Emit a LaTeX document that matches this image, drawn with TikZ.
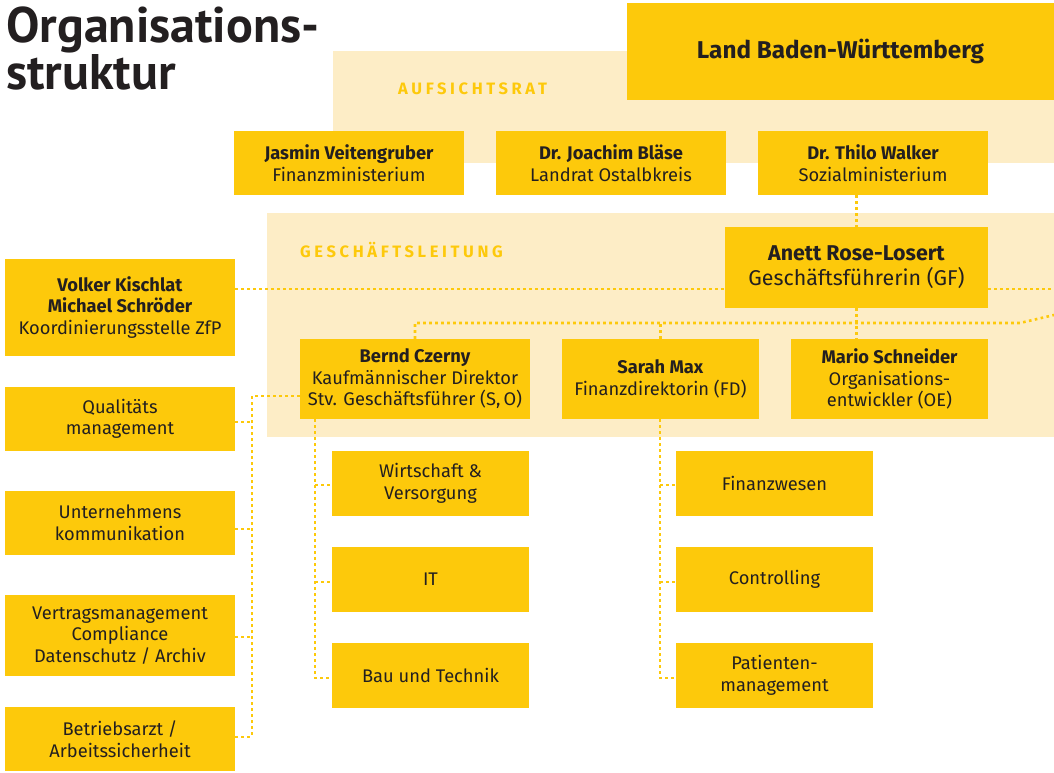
\documentclass[tikz,border=0pt]{standalone}
\usepackage{fontspec}
\setmainfont{Fira Sans}
\newfontfamily\titlefont{PT Sans}
\definecolor{ylw}{HTML}{FDC90B}
\definecolor{pale}{HTML}{FDEDC6}
\definecolor{ink}{HTML}{231F20}
\tikzset{
  box/.style={fill=ylw, inner sep=0pt, align=center, text=ink, font=\fontsize{18.3}{21.5}\selectfont},
  conn/.style={draw=ylw, line width=2.6pt, dash pattern=on 2.6pt off 3.4pt},
  panel/.style={fill=pale, draw=none},
  headtxt/.style={text=ylw, inner sep=0pt, anchor=west, font=\fontsize{16.5}{18}\selectfont\bfseries\addfontfeature{LetterSpace=22}}
}
\begin{document}
\begin{tikzpicture}[x=1pt,y=-1pt]
\useasboundingbox (0,0) rectangle (1054,773);
% panels
\fill[panel] (333,51) rectangle (1054,163);
\fill[panel] (267,213) rectangle (1054,437);
% title
\node[anchor=base west, inner sep=0pt, text=ink, font=\titlefont\bfseries\fontsize{50}{52}\selectfont] (t1) at (6,43) {Organisations-};
\node[anchor=base west, inner sep=0pt, text=ink, font=\titlefont\bfseries\fontsize{50}{52}\selectfont] (t2) at (6,90) {struktur};
% headings
\node[headtxt] (hA) at (398,89) {AUFSICHTSRAT};
\node[headtxt] (hG) at (300,250) {GESCHÄFTSLEITUNG};
% boxes
\node[box, minimum width=427pt, minimum height=97pt, font=\fontsize{24.3}{29}\selectfont\bfseries] (land) at (840.5,51.5) {Land Baden-Württemberg};
\node[box, minimum width=230pt, minimum height=64pt] (jasmin) at (349,163) {\textbf{Jasmin Veitengruber}\\Finanzministerium};
\node[box, minimum width=230pt, minimum height=64pt] (joachim) at (611,163) {\textbf{Dr. Joachim Bläse}\\Landrat Ostalbkreis};
\node[box, minimum width=230pt, minimum height=64pt] (thilo) at (873,163) {\textbf{Dr. Thilo Walker}\\Sozialministerium};
\node[box, minimum width=263pt, minimum height=81pt, font=\fontsize{21.4}{25}\selectfont] (anett) at (856.5,267.5) {\textbf{Anett Rose-Losert}\\Geschäftsführerin (GF)};
\node[box, minimum width=230pt, minimum height=97pt] (volker) at (120,307.5) {\textbf{Volker Kischlat}\\\textbf{Michael Schröder}\\Koordinierungsstelle ZfP};
\node[box, minimum width=230pt, minimum height=80pt] (bernd) at (415,379) {\textbf{Bernd Czerny}\\Kaufmännischer Direktor\\Stv. Geschäftsführer (S,\,O)};
\node[box, minimum width=197pt, minimum height=80pt] (sarah) at (660.5,379) {\textbf{Sarah Max}\\Finanzdirektorin (FD)};
\node[box, minimum width=197pt, minimum height=80pt] (mario) at (889.5,379) {\textbf{Mario Schneider}\\Organisations-\\entwickler (OE)};
\node[box, minimum width=230pt, minimum height=64pt] (qual) at (120,419) {Qualitäts\\management};
\node[box, minimum width=230pt, minimum height=64pt] (untern) at (120,523) {Unternehmens\\kommunikation};
\node[box, minimum width=230pt, minimum height=81pt] (vertrag) at (120,635.5) {Vertragsmanagement\\Compliance\\Datenschutz / Archiv};
\node[box, minimum width=230pt, minimum height=64pt] (betrieb) at (120,739) {Betriebsarzt /\\Arbeitssicherheit};
\node[box, minimum width=197pt, minimum height=65pt] (wirt) at (430.5,483.5) {Wirtschaft \&\\Versorgung};
\node[box, minimum width=197pt, minimum height=65pt] (it) at (430.5,579.5) {IT};
\node[box, minimum width=197pt, minimum height=65pt] (bau) at (430.5,675.5) {Bau und Technik};
\node[box, minimum width=197pt, minimum height=65pt] (fin) at (774.5,483.5) {Finanzwesen};
\node[box, minimum width=197pt, minimum height=65pt] (contr) at (774.5,579.5) {Controlling};
\node[box, minimum width=197pt, minimum height=65pt] (pat) at (774.5,675.5) {Patienten-\\management};
% free ends
\coordinate (gfR) at (1054,289);
\coordinate (hr1) at (1020,323);
\coordinate (hr2) at (1054,315);
\coordinate (busTop) at (252,396);
\coordinate (busBot) at (252,737);
\coordinate (bEnd) at (315,678);
\coordinate (sEnd) at (660,678);
% connectors
\draw[conn] (anett.north |- thilo.south) -- (anett.north);
\draw[conn] (volker.east |- gfR) -- (anett.west |- gfR);
\draw[conn] (anett.east |- gfR) -- (gfR);
\draw[conn] (anett.south) -- (anett.south |- mario.north);
\draw[conn] (bernd.north) -- (bernd.north |- hr1) -- (hr1) -- (hr2);
\draw[conn] (sarah.north) -- (sarah.north |- hr1);
\draw[conn] (bernd.west |- busTop) -- (busTop) -- (busBot);
\draw[conn] (qual.east |- 0,422) -- (busTop |- 0,422);
\draw[conn] (untern.east |- 0,529) -- (busTop |- 0,529);
\draw[conn] (vertrag.east |- 0,637) -- (busTop |- 0,637);
\draw[conn] (betrieb.east |- busBot) -- (busBot);
\draw[conn] (bernd.south -| bEnd) -- (bEnd) -- (bau.west |- bEnd);
\draw[conn] (bEnd |- 0,485) -- (wirt.west |- 0,485);
\draw[conn] (bEnd |- 0,582) -- (it.west |- 0,582);
\draw[conn] (sarah.south -| sEnd) -- (sEnd) -- (pat.west |- sEnd);
\draw[conn] (sEnd |- 0,485) -- (fin.west |- 0,485);
\draw[conn] (sEnd |- 0,582) -- (contr.west |- 0,582);
\end{tikzpicture}
\end{document}
